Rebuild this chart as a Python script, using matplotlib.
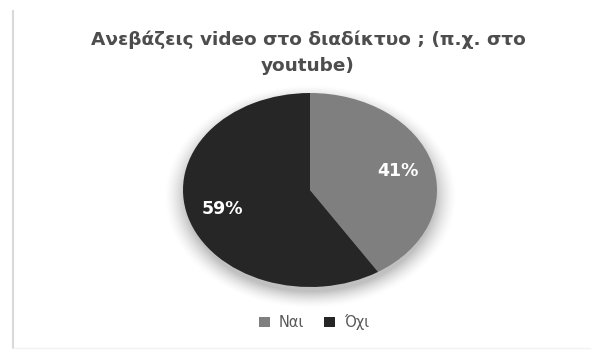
import numpy as np
import matplotlib
matplotlib.use("Agg")
import matplotlib.pyplot as plt
from matplotlib.patches import Patch

labels = ["Ναι", "Όχι"]
shares = [41, 59]
colors = ["#7f7f7f", "#262626"]
title = "Ανεβάζεις video στο διαδίκτυο ; (π.χ. στο\nyoutube)"

W, H = 600, 351
fig = plt.figure(figsize=(W / 100, H / 100), dpi=100)
fig.patch.set_facecolor("white")

# frame lines of the chart area
bg = fig.add_axes([0, 0, 1, 1])
bg.set_xlim(0, W)
bg.set_ylim(H, 0)
bg.axis("off")
bg.plot([13, 13], [11, 348], color="#d9d9d9", lw=1.5)
bg.plot([13, 590], [348, 348], color="#f2f2f2", lw=1)

# soft shadow behind the pie
cx, cy, rx, ry = 310, 192, 127, 97
yy, xx = np.mgrid[0:H, 0:W]
d = np.sqrt(((xx - cx) / rx) ** 2 + ((yy - cy - 4) / ry) ** 2)
glow = np.clip((1.16 - d) / 0.18, 0, 1) ** 1.6 * 0.25
rgba = np.zeros((H, W, 4))
rgba[..., 3] = glow
bg.imshow(rgba, extent=(0, W, H, 0), zorder=0)

# pie axes sized so the pie is an ellipse
ax = fig.add_axes([183 / W, (H - 287) / H, 254 / W, 194 / H])
wedges, texts, autotexts = ax.pie(
    shares, colors=colors, startangle=90, counterclock=False,
    autopct="%1.0f%%", pctdistance=0.72, radius=1,
    textprops=dict(color="white", fontsize=12.5, fontweight="bold",
                   family="DejaVu Sans"),
)
ax.set_aspect("auto")
ax.set_xlim(-1, 1)
ax.set_ylim(-1, 1)
ax.axis("off")

fig.text(308 / W, 1 - 53 / H, title, ha="center", va="center", fontsize=13.3,
         fontweight="bold", color="#4d4d4d", family="DejaVu Sans",
         linespacing=1.55)

handles = [Patch(facecolor=c, label=l) for c, l in zip(colors, labels)]
fig.legend(handles=handles, loc="center", bbox_to_anchor=(0.523, 1 - 322 / H),
           ncol=2, frameon=False, handlelength=0.75,
           handleheight=0.75, handletextpad=0.6, columnspacing=1.4,
           labelcolor="#595959", prop=dict(family="DejaVu Sans", size=10.5))

fig.savefig("out.png", dpi=100, facecolor="white")
